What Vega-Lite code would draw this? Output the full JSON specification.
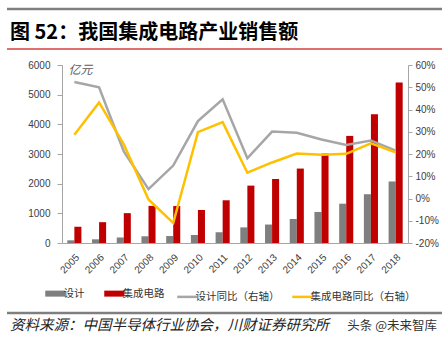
{
  "$schema": "https://vega.github.io/schema/vega-lite/v6.json",
  "padding": {"left": 5, "top": 7, "right": 5, "bottom": 3},
  "config": {"view": {"stroke": null}, "font": "Noto Sans CJK SC", "concat": {"spacing": 3}},
  "datasets": {
    "bars": [
      {"year": "2005", "series": "设计", "value": 90}, {"year": "2005", "series": "集成电路", "value": 545},
      {"year": "2006", "series": "设计", "value": 124}, {"year": "2006", "series": "集成电路", "value": 702},
      {"year": "2007", "series": "设计", "value": 186}, {"year": "2007", "series": "集成电路", "value": 1006},
      {"year": "2008", "series": "设计", "value": 226}, {"year": "2008", "series": "集成电路", "value": 1251},
      {"year": "2009", "series": "设计", "value": 235}, {"year": "2009", "series": "集成电路", "value": 1246},
      {"year": "2010", "series": "设计", "value": 270}, {"year": "2010", "series": "集成电路", "value": 1109},
      {"year": "2011", "series": "设计", "value": 364}, {"year": "2011", "series": "集成电路", "value": 1440},
      {"year": "2012", "series": "设计", "value": 526}, {"year": "2012", "series": "集成电路", "value": 1934},
      {"year": "2013", "series": "设计", "value": 622}, {"year": "2013", "series": "集成电路", "value": 2158},
      {"year": "2014", "series": "设计", "value": 809}, {"year": "2014", "series": "集成电路", "value": 2509},
      {"year": "2015", "series": "设计", "value": 1047}, {"year": "2015", "series": "集成电路", "value": 3015},
      {"year": "2016", "series": "设计", "value": 1325}, {"year": "2016", "series": "集成电路", "value": 3610},
      {"year": "2017", "series": "设计", "value": 1644}, {"year": "2017", "series": "集成电路", "value": 4336},
      {"year": "2018", "series": "设计", "value": 2074}, {"year": "2018", "series": "集成电路", "value": 5411}
    ],
    "lines": [
      {"year": "2005", "series": "设计同比（右轴）", "pct": 52.4},
      {"year": "2006", "series": "设计同比（右轴）", "pct": 50.0},
      {"year": "2007", "series": "设计同比（右轴）", "pct": 21.2},
      {"year": "2008", "series": "设计同比（右轴）", "pct": 4.2},
      {"year": "2009", "series": "设计同比（右轴）", "pct": 14.8},
      {"year": "2010", "series": "设计同比（右轴）", "pct": 34.8},
      {"year": "2011", "series": "设计同比（右轴）", "pct": 44.6},
      {"year": "2012", "series": "设计同比（右轴）", "pct": 18.1},
      {"year": "2013", "series": "设计同比（右轴）", "pct": 30.1},
      {"year": "2014", "series": "设计同比（右轴）", "pct": 29.5},
      {"year": "2015", "series": "设计同比（右轴）", "pct": 26.5},
      {"year": "2016", "series": "设计同比（右轴）", "pct": 24.1},
      {"year": "2017", "series": "设计同比（右轴）", "pct": 26.1},
      {"year": "2018", "series": "设计同比（右轴）", "pct": 21.5},
      {"year": "2005", "series": "集成电路同比（右轴）", "pct": 28.7},
      {"year": "2006", "series": "集成电路同比（右轴）", "pct": 43.2},
      {"year": "2007", "series": "集成电路同比（右轴）", "pct": 24.3},
      {"year": "2008", "series": "集成电路同比（右轴）", "pct": -0.4},
      {"year": "2009", "series": "集成电路同比（右轴）", "pct": -11.0},
      {"year": "2010", "series": "集成电路同比（右轴）", "pct": 29.8},
      {"year": "2011", "series": "集成电路同比（右轴）", "pct": 34.3},
      {"year": "2012", "series": "集成电路同比（右轴）", "pct": 11.6},
      {"year": "2013", "series": "集成电路同比（右轴）", "pct": 16.2},
      {"year": "2014", "series": "集成电路同比（右轴）", "pct": 20.2},
      {"year": "2015", "series": "集成电路同比（右轴）", "pct": 19.7},
      {"year": "2016", "series": "集成电路同比（右轴）", "pct": 20.1},
      {"year": "2017", "series": "集成电路同比（右轴）", "pct": 24.8},
      {"year": "2018", "series": "集成电路同比（右轴）", "pct": 20.7}
    ],
    "header": [{"label": "图 52：我国集成电路产业销售额"}],
    "footer": [{"source": "资料来源：中国半导体行业协会，川财证券研究所", "mark": "头条 @未来智库"}]
  },
  "spacing": 10,
  "resolve": {"scale": {"color": "independent"}, "legend": {"color": "independent"}},
  "vconcat": [
    {
      "vconcat": [
        {
          "width": 435,
          "height": 1,
          "data": {"name": "header"},
          "mark": {"type": "rule", "color": "#7F7F7F", "strokeWidth": 2.5, "strokeCap": "butt"},
          "encoding": {"y": {"datum": 1, "type": "quantitative", "scale": {"domain": [0, 1]}, "axis": null}}
        },
        {
          "width": 435,
          "height": 35,
          "data": {"name": "header"},
          "layer": [
            {
              "mark": {"type": "rule", "color": "#E07070", "strokeWidth": 2, "strokeCap": "butt"},
              "encoding": {"y": {"datum": 0, "type": "quantitative", "scale": {"domain": [0, 1]}, "axis": null}}
            },
            {
              "mark": {"type": "text", "align": "left", "baseline": "middle", "dx": 3, "dy": 1, "fontSize": 20, "fontWeight": "bold", "font": "Noto Sans CJK SC", "color": "#000000"},
              "encoding": {
                "x": {"datum": 0, "type": "quantitative", "scale": {"domain": [0, 1]}, "axis": null},
                "y": {"datum": 0.5, "type": "quantitative", "scale": {"domain": [0, 1]}, "axis": null},
                "text": {"field": "label"}
              }
            }
          ]
        }
      ]
    },
    {
      "resolve": {"scale": {"color": "independent"}, "legend": {"color": "independent"}},
      "vconcat": [
        {
          "resolve": {"scale": {"color": "independent"}, "legend": {"color": "independent"}},
          "hconcat": [
            {
              "width": 1,
              "height": 10,
              "data": {"values": []},
              "mark": {"type": "point", "opacity": 0},
              "encoding": {}
            },
            {
              "width": 346,
              "height": 178,
              "layer": [
                {
                  "data": {"name": "bars"},
                  "mark": {"type": "bar"},
                  "encoding": {
                    "x": {
                      "field": "year", "type": "ordinal",
                      "scale": {"paddingInner": 0.43, "paddingOuter": 0.215},
                      "axis": {"title": null, "labelAngle": -45, "ticks": false, "labelPadding": 9, "labelFontSize": 10, "labelFont": "Liberation Sans", "labelColor": "#404040", "domainColor": "#A6A6A6", "grid": false}
                    },
                    "xOffset": {"field": "series", "type": "nominal", "scale": {"domain": ["设计", "集成电路"]}},
                    "y": {
                      "field": "value", "type": "quantitative",
                      "scale": {"domain": [0, 6000]},
                      "axis": {"values": [0, 1000, 2000, 3000, 4000, 5000, 6000], "format": "d", "grid": false, "domainColor": "#A6A6A6", "tickColor": "#A6A6A6", "tickSize": 5, "labelPadding": 7, "labelFontSize": 10, "labelFont": "Liberation Sans", "labelColor": "#404040", "minExtent": 51,
                        "title": "亿元", "titleAngle": 0, "titleX": 6, "titleY": 4, "titleAlign": "left", "titleBaseline": "middle", "titleFont": "Noto Sans CJK SC", "titleFontSize": 12, "titleFontWeight": "normal", "titleFontStyle": "italic", "titleColor": "#595959"}
                    },
                    "color": {
                      "field": "series", "type": "nominal",
                      "scale": {"domain": ["设计", "集成电路", "设计同比（右轴）", "集成电路同比（右轴）"], "range": ["#7F7F7F", "#C00000", "#A6A6A6", "#FFC000"]},
                      "legend": {
                        "orient": "none", "legendX": -14, "legendY": 221, "direction": "horizontal", "columns": 4, "title": null, "padding": 2,
                        "symbolType": "stroke", "symbolSize": 400, "symbolStrokeWidth": 2.5, "labelFont": "Noto Sans CJK SC", "labelFontSize": 10.5, "labelColor": "#333333", "columnPadding": 7, "labelOffset": 3,
                        "encode": {"symbols": {"update": {"stroke": {"scale": "color", "field": "value"}, "strokeWidth": {"signal": "indexof(['设计','集成电路'], datum.value) >= 0 ? 6 : 2.5"}}}}
                      }
                    }
                  }
                },
                {
                  "data": {"name": "lines"},
                  "mark": {"type": "line", "strokeWidth": 2.5},
                  "encoding": {
                    "x": {"field": "year", "type": "ordinal"},
                    "y": {
                      "field": "pct", "type": "quantitative",
                      "scale": {"domain": [-20, 60]},
                      "axis": {"orient": "right", "values": [-20, -10, 0, 10, 20, 30, 40, 50, 60], "labelExpr": "datum.value + '%'", "grid": false, "title": null, "domainColor": "#A6A6A6", "tickColor": "#A6A6A6", "tickSize": 4, "labelPadding": 3, "labelFontSize": 10, "labelFont": "Liberation Sans", "labelColor": "#404040"}
                    },
                    "color": {"field": "series", "type": "nominal"}
                  }
                }
              ],
              "resolve": {"scale": {"y": "independent"}}
            }
          ]
        },
        {
          "width": 435,
          "height": 13,
          "data": {"name": "footer"},
          "layer": [
            {
              "mark": {"type": "rule", "color": "#7F7F7F", "strokeWidth": 2.5, "strokeCap": "butt"},
              "encoding": {"y": {"datum": 1, "type": "quantitative", "scale": {"domain": [0, 1]}, "axis": null}}
            },
            {
              "mark": {"type": "text", "align": "left", "baseline": "middle", "dx": 3, "fontSize": 14.5, "fontStyle": "italic", "font": "Noto Sans CJK SC", "color": "#222222"},
              "encoding": {
                "x": {"datum": 0, "type": "quantitative", "scale": {"domain": [0, 1]}, "axis": null},
                "y": {"datum": 0, "type": "quantitative", "scale": {"domain": [0, 1]}, "axis": null},
                "text": {"field": "source"}
              }
            },
            {
              "mark": {"type": "text", "align": "right", "baseline": "middle", "dx": -5, "fontSize": 12.5, "font": "Noto Sans CJK SC", "color": "#333333"},
              "encoding": {
                "x": {"datum": 1, "type": "quantitative", "scale": {"domain": [0, 1]}, "axis": null},
                "y": {"datum": 0, "type": "quantitative", "scale": {"domain": [0, 1]}, "axis": null},
                "text": {"field": "mark"}
              }
            }
          ]
        }
      ]
    }
  ]
}
